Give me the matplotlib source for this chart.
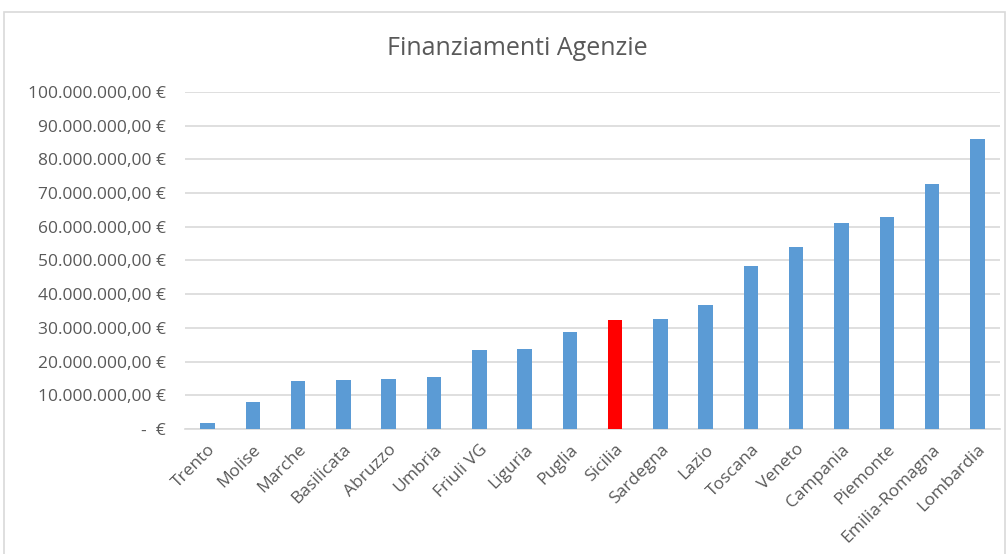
import matplotlib.pyplot as plt
from matplotlib.patches import Rectangle

regioni = ["Trento", "Molise", "Marche", "Basilicata", "Abruzzo", "Umbria",
           "Friuli VG", "Liguria", "Puglia", "Sicilia", "Sardegna", "Lazio",
           "Toscana", "Veneto", "Campania", "Piemonte", "Emilia-Romagna", "Lombardia"]
finanziamenti = [1.8e6, 8.0e6, 14.1e6, 14.4e6, 14.7e6, 15.3e6,
                 23.5e6, 23.8e6, 28.8e6, 32.4e6, 32.7e6, 36.8e6,
                 48.4e6, 54.1e6, 61.2e6, 63.0e6, 72.8e6, 85.9e6]
evidenziata = "Sicilia"
y_ticks = [i * 10_000_000 for i in range(11)]

plt.rcParams["font.family"] = ["Open Sans", "DejaVu Sans"]

fig = plt.figure(figsize=(10.08, 5.54), dpi=100)
ax = fig.add_axes([0.1835, 0.2256, 0.8085, 0.6084])

colors = ["#FF0000" if r == evidenziata else "#5B9BD5" for r in regioni]
ax.bar(range(len(regioni)), finanziamenti, width=0.32, color=colors, zorder=3)

ax.set_xlim(-0.5, len(regioni) - 0.5)
ax.set_ylim(0, 100_000_000)


def fmt(v):
    if v == 0:
        return "-  €"
    s = f"{int(v):,}".replace(",", ".")
    return s + ",00 €"


ax.set_yticks(y_ticks)
ax.set_yticklabels([fmt(v) for v in y_ticks])
ax.set_xticks(range(len(regioni)))
ax.set_xticklabels(regioni, rotation=45, ha="right", rotation_mode="anchor")
ax.tick_params(axis="y", length=0, pad=14, labelsize=12.5, labelcolor="#595959")
ax.tick_params(axis="x", length=0, pad=9, labelsize=12.5, labelcolor="#595959")

ax.grid(axis="y", color="#D9D9D9", linewidth=1.2, zorder=0)
for s in ["top", "right", "left"]:
    ax.spines[s].set_visible(False)
ax.spines["bottom"].set_color("#D9D9D9")
ax.spines["bottom"].set_linewidth(1.2)

fig.text(0.513, 0.912, "Finanziamenti Agenzie", ha="center", va="center",
         fontsize=18, color="#595959")

# chart border like the spreadsheet frame
fig.patches.append(Rectangle((4 / 1008, -0.05), 1001 / 1008, 1.05 - 12 / 554,
                             transform=fig.transFigure, fill=False,
                             edgecolor="#D9D9D9", linewidth=1.2))

plt.savefig("out.png", dpi=100)
